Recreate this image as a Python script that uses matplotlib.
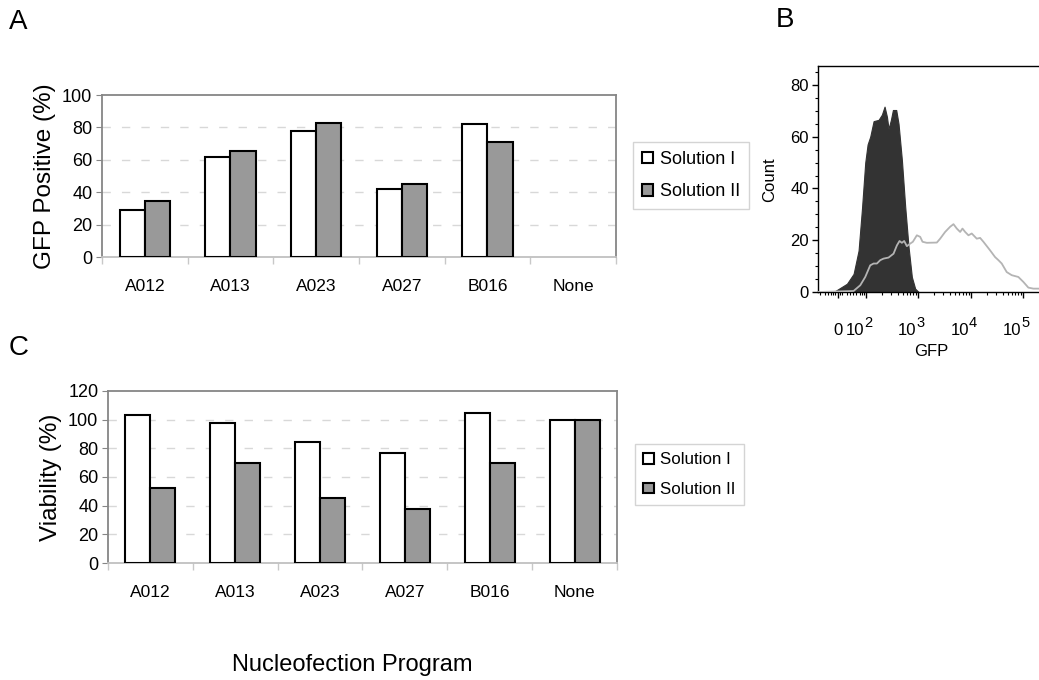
#!/usr/bin/env python3
"""Nucleofection efficiency / viability bars and GFP flow histogram."""

import matplotlib
matplotlib.use("Agg")
import matplotlib.pyplot as plt
import numpy as np
from matplotlib.ticker import FixedLocator

plt.rcParams["font.family"] = ["Liberation Sans", "DejaVu Sans"]

programs = ["A012", "A013", "A023", "A027", "B016", "None"]
solutions = ["Solution I", "Solution II"]

gfp_sol1 = [29, 62, 77.5, 42, 82, 0]
gfp_sol2 = [34.5, 65.5, 83, 45, 71, 0]

viab_sol1 = [103.5, 98, 84.5, 77, 104.5, 100]
viab_sol2 = [52.5, 70, 45.5, 38, 70, 100]

# flow histogram, x in display decades (2 -> 10^2, 3 -> 10^3 ...)
dark_x = [1.417, 1.639, 1.765, 1.860, 1.924, 1.987, 2.032, 2.082, 2.146, 2.241,
          2.304, 2.355, 2.400, 2.431, 2.476, 2.514, 2.577, 2.621, 2.685, 2.748,
          2.812, 2.875, 2.938, 3.002]
dark_count = [0.4, 3.2, 7, 16, 32, 50, 57, 60, 66, 66.5,
              68.5, 71.6, 67.7, 63, 66.5, 70.3, 70.3, 65, 51, 33,
              17.4, 5.8, 1.3, 0]

light_x = [1.100, 1.765, 1.892, 1.987, 2.082, 2.146, 2.209, 2.273, 2.336, 2.431,
           2.526, 2.590, 2.640, 2.685, 2.729, 2.780, 2.843, 2.894, 2.970, 3.034,
           3.078, 3.160, 3.351, 3.414, 3.509, 3.604, 3.668, 3.731, 3.795, 3.839,
           3.890, 3.953, 4.016, 4.111, 4.175, 4.238, 4.365, 4.460, 4.524, 4.587,
           4.682, 4.777, 4.904, 4.999, 5.094, 5.190, 5.297]
light_count = [0, 0.4, 2.6, 5.8, 10.3, 11, 11, 12.3, 12.9, 13.3,
               14.8, 18, 19.7, 19, 19.7, 17.7, 18.7, 19.4, 21.9, 21.3,
               19.4, 19, 19.1, 20.6, 23.2, 25.2, 26.2, 24.5, 23.2, 24.5,
               23.2, 21.9, 22.6, 20.6, 20.9, 19.4, 16.1, 13.5, 12.3, 11,
               7.7, 6.5, 5.8, 3.9, 1.7, 1.3, 1.3]
decades = [2, 3, 4, 5]
zero_pos = 1.467

W, H = 1039, 680
FRAME = "#868686"
BAR_GRAY = "#999999"


def box(left, top, right, bottom):
    return [left / W, 1 - bottom / H, (right - left) / W, (bottom - top) / H]


def bar_panel(ax, sol1, sol2, ymax, ylabel, legend_xy, legend_size):
    x = np.arange(len(programs))
    w = 0.295
    b1 = ax.bar(x - w / 2, sol1, w, color="white", edgecolor="black", linewidth=1.5, zorder=3)
    b2 = ax.bar(x + w / 2, sol2, w, color=BAR_GRAY, edgecolor="black", linewidth=1.5, zorder=3)
    # zero-height bars leave no mark in the original
    for patch in list(b1.patches) + list(b2.patches):
        if patch.get_height() == 0:
            patch.set_visible(False)
    ax.set_xlim(-0.5, len(programs) - 0.5)
    ax.set_ylim(0, ymax)
    ax.set_yticks(np.arange(0, ymax + 1, 20))
    ax.set_xticks(x)
    ax.set_xticklabels(programs)
    ax.xaxis.set_minor_locator(FixedLocator(np.arange(-0.5, len(programs), 1.0)))
    ax.tick_params(axis="x", which="major", length=0, pad=16, labelsize=12.5)
    ax.tick_params(axis="x", which="minor", length=5, color="#c8c8c8", width=1)
    ax.tick_params(axis="y", length=4, color=FRAME, labelsize=13, pad=3)
    for name in ("top", "left", "right"):
        ax.spines[name].set_color(FRAME)
        ax.spines[name].set_linewidth(1.3)
    ax.spines["bottom"].set_color("#c0c0c0")
    ax.spines["bottom"].set_linewidth(1.3)
    for v in np.arange(20, ymax, 20):
        ax.axhline(v, color="#d8d8d8", linestyle=(0, (6, 8)), linewidth=1, zorder=1)
    ax.set_ylabel(ylabel, fontsize=17.5, labelpad=4)
    ax.legend([b1, b2], solutions, loc="upper left", bbox_to_anchor=legend_xy,
              bbox_transform=ax.figure.transFigure, fancybox=False,
              edgecolor="#d4d4d4", fontsize=legend_size, handlelength=0.6,
              handleheight=0.6, handletextpad=0.4, borderpad=0.5,
              labelspacing=0.85, borderaxespad=0, framealpha=1)


def main() -> int:
    fig = plt.figure(figsize=(W / 100, H / 100), dpi=100)

    ax_a = fig.add_axes(box(102, 95, 616, 257))
    bar_panel(ax_a, gfp_sol1, gfp_sol2, 100, "GFP Positive (%)",
              (633 / W, 1 - 142 / H), 13)

    ax_c = fig.add_axes(box(108, 391, 617, 563))
    bar_panel(ax_c, viab_sol1, viab_sol2, 120, "Viability (%)",
              (635 / W, 1 - 444 / H), 12.2)

    fig.text(352 / W, 1 - 665 / H, "Nucleofection Program", fontsize=17,
             ha="center", va="center")

    # panel B: flow histogram
    ax_b = fig.add_axes(box(818, 66, W, 292))
    ax_b.fill_between(dark_x, dark_count, 0, color="#333333", linewidth=0.8,
                      edgecolor="#333333", zorder=2)
    ax_b.plot(light_x, light_count, color="#b4b4b4", linewidth=1.3, zorder=3)
    ax_b.set_xlim(1.087, 5.297)
    ax_b.set_ylim(0, 87.3)
    ax_b.spines["right"].set_visible(False)
    for name in ("top", "left", "bottom"):
        ax_b.spines[name].set_linewidth(1.0)
    ax_b.set_yticks([0, 20, 40, 60, 80])
    ax_b.yaxis.set_minor_locator(FixedLocator(np.arange(0, 87, 5)))
    ax_b.set_xticks([zero_pos] + decades)
    ax_b.set_xticklabels([])
    lin_minor = [1.13, 1.22, 1.28, 1.33, 1.37, 1.42, 1.50, 1.55, 1.63, 1.70,
                 1.76, 1.82, 1.88, 1.93, 1.97]
    log_minor = [d + np.log10(k) for d in decades for k in range(2, 10)]
    ax_b.xaxis.set_minor_locator(FixedLocator(lin_minor + [m for m in log_minor if m < 5.29]))
    ax_b.tick_params(axis="both", which="major", length=4.5, width=1, labelsize=12, pad=2)
    ax_b.tick_params(axis="both", which="minor", length=2.5, width=0.8)

    # biexponential axis labels: "0" then 10 with a large raised exponent
    xtr = ax_b.get_xaxis_transform()
    ax_b.annotate("0", xy=(zero_pos, 0), xycoords=xtr, xytext=(0, -31),
                  textcoords="offset pixels", ha="center", va="top", fontsize=12)
    for d in decades:
        ax_b.annotate("10", xy=(d, 0), xycoords=xtr, xytext=(-2, -31),
                      textcoords="offset pixels", ha="right", va="top", fontsize=12)
        ax_b.annotate(str(d), xy=(d, 0), xycoords=xtr, xytext=(-2, -24),
                      textcoords="offset pixels", ha="left", va="top", fontsize=10.5)

    ax_b.set_ylabel("Count", fontsize=12)
    ax_b.yaxis.set_label_coords((777 - 818) / 221, 0.496)
    ax_b.set_xlabel("GFP", fontsize=12, va="center")
    ax_b.xaxis.set_label_coords((931 - 818) / 221, (292 - 352) / 226)

    for letter, x, y in (("A", 9, 9), ("B", 776, 7), ("C", 9, 335)):
        fig.text(x / W, 1 - y / H, letter, fontsize=20, ha="left", va="top")

    fig.savefig("out.png", dpi=100)
    return 0


if __name__ == "__main__":
    raise SystemExit(main())
